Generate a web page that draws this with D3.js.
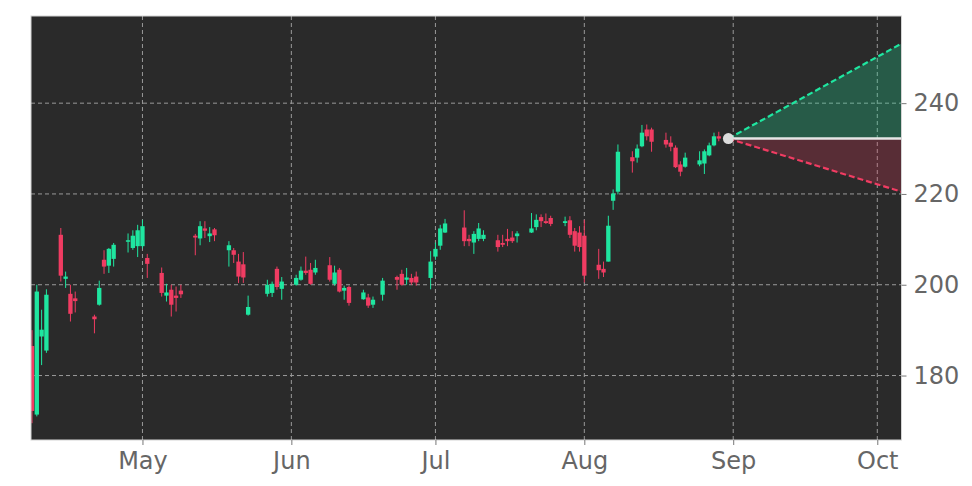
<!DOCTYPE html>
<html>
<head>
<meta charset="utf-8">
<script src="https://cdn.jsdelivr.net/npm/d3@7"></script>
<style>
  html, body { margin: 0; padding: 0; background: #fff; }
  #chart text { font-family: "DejaVu Sans", sans-serif; }
</style>
</head>
<body>
<div id="chart"></div>
<script>
// daily candles, Apr 8 - Aug 29 2025
const dates = [
    "2025-04-08","2025-04-09","2025-04-10","2025-04-11","2025-04-14","2025-04-15","2025-04-16","2025-04-17",
    "2025-04-21","2025-04-22","2025-04-23","2025-04-24","2025-04-25","2025-04-28","2025-04-29","2025-04-30",
    "2025-05-01","2025-05-02","2025-05-05","2025-05-06","2025-05-07","2025-05-08","2025-05-09","2025-05-12",
    "2025-05-13","2025-05-14","2025-05-15","2025-05-16","2025-05-19","2025-05-20","2025-05-21","2025-05-22",
    "2025-05-23","2025-05-27","2025-05-28","2025-05-29","2025-05-30",
    "2025-06-02","2025-06-03","2025-06-04","2025-06-05","2025-06-06","2025-06-09","2025-06-10","2025-06-11",
    "2025-06-12","2025-06-13","2025-06-16","2025-06-17","2025-06-18","2025-06-20","2025-06-23","2025-06-24",
    "2025-06-25","2025-06-26","2025-06-27","2025-06-30",
    "2025-07-01","2025-07-02","2025-07-03","2025-07-07","2025-07-08","2025-07-09","2025-07-10","2025-07-11",
    "2025-07-14","2025-07-15","2025-07-16","2025-07-17","2025-07-18","2025-07-21","2025-07-22","2025-07-23",
    "2025-07-24","2025-07-25","2025-07-28","2025-07-29","2025-07-30","2025-07-31",
    "2025-08-01","2025-08-04","2025-08-05","2025-08-06","2025-08-07","2025-08-08","2025-08-11","2025-08-12",
    "2025-08-13","2025-08-14","2025-08-15","2025-08-18","2025-08-19","2025-08-20","2025-08-21","2025-08-22",
    "2025-08-25","2025-08-26","2025-08-27","2025-08-28","2025-08-29"
];
const opens = [
    186.5, 171.4, 188.6, 185.5, 211.0, 201.3, 198.0, 197.0, 193.0, 195.6, 205.5, 204.2, 205.7, 209.5, 208.1, 208.5,
    208.5, 205.9, 202.6, 197.6, 198.9, 197.6, 198.7, 210.8, 210.2, 212.4, 210.7, 212.2, 207.6, 207.6, 205.1, 204.5,
    193.4, 198.0, 198.2, 203.5, 199.1,
    200.0, 201.1, 203.1, 203.3, 202.7, 204.3, 200.2, 203.3, 198.7, 199.5, 196.8, 197.2, 195.6, 197.8, 201.7, 202.4,
    201.1, 201.5, 201.8, 201.5,
    206.2, 208.6, 211.5, 212.6, 210.1, 209.3, 210.1, 210.1, 209.8, 209.2, 210.1, 210.4, 210.7, 211.5, 212.7, 214.9,
    214.0, 214.7, 213.6, 214.2, 211.8, 211.5,
    210.8, 204.4, 203.5, 205.1, 218.5, 220.5, 228.1, 228.0, 230.5, 234.2, 234.2, 231.9, 231.3, 230.2, 226.5, 226.0,
    226.5, 226.7, 228.5, 230.7, 232.7
];
const highs = [
    190.0, 200.0, 194.5, 199.0, 212.5, 202.9, 200.0, 198.5, 193.4, 200.9, 207.6, 208.1, 209.2, 211.3, 212.0, 213.2,
    214.3, 206.8, 203.8, 200.2, 200.0, 199.6, 200.0, 211.2, 214.0, 214.0, 212.7, 212.5, 209.6, 208.1, 206.8, 207.2,
    197.6, 201.1, 200.7, 204.0, 201.7,
    202.2, 204.0, 206.2, 204.8, 205.5, 206.1, 204.2, 203.7, 199.8, 199.8, 198.9, 198.0, 197.4, 201.5, 202.0, 203.3,
    203.7, 202.4, 202.9, 207.4,
    209.3, 213.2, 214.5, 216.4, 211.0, 211.8, 213.6, 212.0, 211.0, 211.0, 212.3, 211.8, 211.8, 215.8, 215.5, 215.5,
    215.7, 215.2, 215.0, 215.1, 212.5, 212.9,
    214.3, 207.9, 205.1, 215.2, 221.0, 230.9, 229.4, 230.9, 235.2, 235.3, 234.6, 233.5, 232.7, 230.7, 227.2, 229.1,
    229.4, 229.8, 231.3, 233.5, 233.7
];
const lows = [
    169.5, 171.0, 182.3, 185.0, 200.7, 199.3, 191.9, 193.9, 189.3, 195.4, 202.4, 202.6, 204.0, 207.1, 207.7, 206.1,
    208.0, 201.5, 197.4, 196.3, 193.0, 194.1, 197.1, 206.5, 208.7, 210.3, 209.4, 209.6, 204.0, 204.8, 200.4, 200.4,
    193.2, 197.4, 197.3, 198.9, 196.7,
    199.8, 200.9, 202.2, 200.0, 202.2, 200.7, 199.8, 198.3, 196.7, 195.4, 196.7, 194.9, 194.9, 196.5, 198.9, 199.8,
    200.0, 200.0, 199.8, 199.0,
    205.5, 207.7, 211.4, 208.5, 208.5, 206.8, 209.6, 209.6, 207.3, 208.3, 208.5, 209.2, 209.3, 211.4, 212.0, 212.7,
    213.4, 212.9, 212.9, 210.3, 207.3, 207.3,
    200.5, 201.3, 201.7, 205.1, 216.5, 219.9, 224.7, 226.9, 230.3, 231.8, 229.3, 230.2, 229.4, 225.7, 223.9, 225.8,
    226.1, 224.4, 228.3, 230.5, 231.6
];
const closes = [
    172.2, 198.5, 190.1, 197.8, 202.0, 201.8, 193.6, 196.4, 192.4, 199.3, 204.0, 207.9, 208.8, 209.8, 210.8, 212.0,
    212.9, 204.6, 198.2, 198.3, 195.6, 197.1, 197.9, 210.4, 212.9, 211.9, 211.3, 210.9, 208.7, 206.6, 201.8, 201.6,
    195.1, 200.0, 200.2, 199.5, 200.7,
    201.5, 203.1, 202.6, 200.2, 203.7, 201.1, 202.7, 198.5, 199.3, 196.0, 198.3, 195.4, 196.7, 200.9, 201.1, 200.0,
    201.6, 200.5, 200.5, 205.1,
    207.9, 212.4, 213.5, 209.6, 209.6, 211.2, 212.4, 211.0, 208.3, 208.8, 209.6, 209.6, 211.3, 212.4, 214.3, 214.0,
    213.6, 213.4, 214.0, 211.0, 208.6, 208.3,
    202.0, 203.2, 202.7, 213.0, 220.1, 229.3, 227.2, 230.0, 233.5, 232.7, 231.5, 230.9, 230.4, 225.9, 224.9, 228.0,
    227.4, 229.4, 230.7, 232.7, 232.2
];

// projection cone from the last close
const projDates = ["2025-08-31", "2025-10-06"];
const projUpper = [232.2, 253.1];
const projBase = [232.2, 232.2];
const projLower = [232.2, 220.5];

const yTicks = [180, 200, 220, 240];

const width = 972;
const height = 486;
const margin = { top: 16, right: 70.5, bottom: 46, left: 31 };

const green = "#1fe6a0";
const red = "#f03c62";

const parseDate = d3.timeParse("%Y-%m-%d");

const candles = dates.map((d, i) => ({
    date: parseDate(d),
    open: opens[i],
    high: highs[i],
    low: lows[i],
    close: closes[i]
}));

const proj = projDates.map((d, i) => ({
    date: parseDate(d),
    upper: projUpper[i],
    base: projBase[i],
    lower: projLower[i]
}));

const svg = d3.select("#chart")
    .append("svg")
    .attr("width", width)
    .attr("height", height)
    .style("display", "block");

const x = d3.scaleTime()
    .domain([new Date(2025, 3, 7, 19), new Date(2025, 9, 6, 1)])
    .range([margin.left, width - margin.right]);

const y = d3.scaleLinear()
    .domain([165.8, 259.2])
    .range([height - margin.bottom, margin.top]);

const plotW = width - margin.right - margin.left;
const plotH = height - margin.bottom - margin.top;

svg.append("defs").append("clipPath")
    .attr("id", "plotClip")
    .append("rect")
    .attr("x", margin.left)
    .attr("y", margin.top)
    .attr("width", plotW)
    .attr("height", plotH);

// dark plot area
svg.append("rect")
    .attr("x", margin.left)
    .attr("y", margin.top)
    .attr("width", plotW)
    .attr("height", plotH)
    .attr("fill", "#2a2a2a");

const plot = svg.append("g").attr("clip-path", "url(#plotClip)");

// grid
const monthTicks = x.ticks(d3.timeMonth.every(1));

plot.selectAll(".vgrid")
    .data(monthTicks)
    .join("line")
    .attr("class", "vgrid")
    .attr("x1", d => x(d))
    .attr("x2", d => x(d))
    .attr("y1", margin.top)
    .attr("y2", height - margin.bottom)
    .attr("stroke", "#9a9a9a")
    .attr("stroke-width", 1)
    .attr("stroke-dasharray", "4,3");

plot.selectAll(".hgrid")
    .data(yTicks)
    .join("line")
    .attr("class", "hgrid")
    .attr("x1", margin.left)
    .attr("x2", width - margin.right)
    .attr("y1", d => y(d))
    .attr("y2", d => y(d))
    .attr("stroke", "#9a9a9a")
    .attr("stroke-width", 1)
    .attr("stroke-dasharray", "4,3");

// projection fills
plot.append("path")
    .datum(proj)
    .attr("fill", green)
    .attr("fill-opacity", 0.26)
    .attr("d", d3.area().x(d => x(d.date)).y0(d => y(d.base)).y1(d => y(d.upper)));

plot.append("path")
    .datum(proj)
    .attr("fill", red)
    .attr("fill-opacity", 0.24)
    .attr("d", d3.area().x(d => x(d.date)).y0(d => y(d.base)).y1(d => y(d.lower)));

// candles
const dayPx = x(new Date(2025, 5, 2)) - x(new Date(2025, 5, 1));
const bodyW = dayPx * 0.9;

const candle = plot.selectAll(".candle")
    .data(candles)
    .join("g")
    .attr("class", "candle");

candle.append("line")
    .attr("x1", d => x(d.date))
    .attr("x2", d => x(d.date))
    .attr("y1", d => y(d.high))
    .attr("y2", d => y(d.low))
    .attr("stroke", d => d.close >= d.open ? green : red)
    .attr("stroke-width", 1);

candle.append("rect")
    .attr("x", d => x(d.date) - bodyW / 2)
    .attr("y", d => y(Math.max(d.open, d.close)))
    .attr("width", bodyW)
    .attr("height", d => Math.max(1.5, Math.abs(y(d.open) - y(d.close))))
    .attr("fill", d => d.close >= d.open ? green : red);

// projection lines
plot.append("path")
    .datum(proj)
    .attr("fill", "none")
    .attr("stroke", "#e6e6e6")
    .attr("stroke-width", 2.5)
    .attr("d", d3.line().x(d => x(d.date)).y(d => y(d.base)));

plot.append("path")
    .datum(proj)
    .attr("fill", "none")
    .attr("stroke", green)
    .attr("stroke-width", 2.2)
    .attr("stroke-dasharray", "6,3")
    .attr("d", d3.line().x(d => x(d.date)).y(d => y(d.upper)));

plot.append("path")
    .datum(proj)
    .attr("fill", "none")
    .attr("stroke", red)
    .attr("stroke-width", 2.2)
    .attr("stroke-dasharray", "6,3")
    .attr("d", d3.line().x(d => x(d.date)).y(d => y(d.lower)));

plot.append("circle")
    .attr("cx", x(proj[0].date))
    .attr("cy", y(proj[0].base))
    .attr("r", 5.5)
    .attr("fill", "#dcdcdc");

// frame
svg.append("rect")
    .attr("x", margin.left)
    .attr("y", margin.top)
    .attr("width", plotW)
    .attr("height", plotH)
    .attr("fill", "none")
    .attr("stroke", "#d4d4d4")
    .attr("stroke-width", 1);

// axes
const xAxis = svg.append("g")
    .attr("transform", `translate(0,${height - margin.bottom})`)
    .call(d3.axisBottom(x)
        .tickValues(monthTicks.filter(d => d.getMonth() > 3))
        .tickFormat(d3.timeFormat("%b"))
        .tickSize(5)
        .tickPadding(7));

const yAxis = svg.append("g")
    .attr("transform", `translate(${width - margin.right},0)`)
    .call(d3.axisRight(y)
        .tickValues(yTicks)
        .tickSize(5)
        .tickPadding(7));

[xAxis, yAxis].forEach(g => {
    g.select(".domain").remove();
    g.selectAll(".tick line").attr("stroke", "#777");
    g.selectAll(".tick text")
        .attr("fill", "#666")
        .style("font-size", "24px")
        .style("font-family", "'DejaVu Sans', sans-serif");
});
</script>
</body>
</html>
